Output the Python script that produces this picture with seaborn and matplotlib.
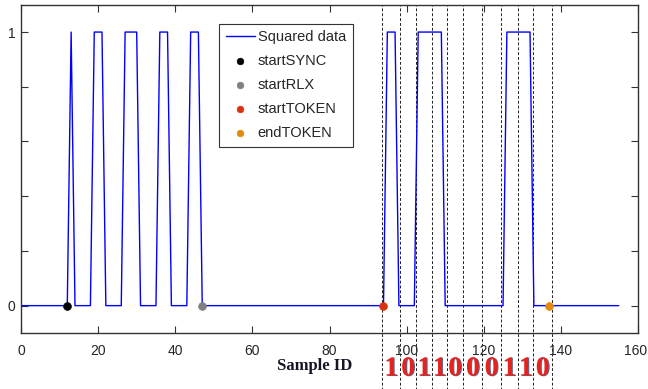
import matplotlib
matplotlib.use('Agg')
import matplotlib.pyplot as plt
import matplotlib.patheffects as pe
import matplotlib.transforms as mtransforms
import seaborn as sns
import pandas as pd

# ---- data ----
signal_x = [0, 12, 13, 14, 18, 19, 21, 22, 26, 27, 30, 31, 35, 36, 38, 39,
            43, 44, 46, 47, 94, 95, 97, 98, 102, 103, 109, 110, 125, 126, 132, 133, 155]
signal_y = [0, 0, 1, 0, 0, 1, 1, 0, 0, 1, 1, 0, 0, 1, 1, 0,
            0, 1, 1, 0, 0, 1, 1, 0, 0, 1, 1, 0, 0, 1, 1, 0, 0]
event_names = ['startSYNC', 'startRLX', 'startTOKEN', 'endTOKEN']
event_x = [12, 47, 94, 137]
event_y = [0, 0, 0, 0]
event_colors = ['#000000', '#808080', '#d8320e', '#e08a0e']
bit_bounds = [93.7, 98.3, 102.4, 106.7, 110.4, 114.7, 119.6, 124.4, 128.9, 132.9, 137.6]
bits = ['1', '0', '1', '1', '0', '0', '0', '1', '1', '0']
xticks = [0, 20, 40, 60, 80, 100, 120, 140, 160]
yticks = [0, 0.2, 0.4, 0.6, 0.8, 1]
ytick_labels = ['0', '', '', '', '', '1']

sns.set_style('ticks')
plt.rcParams['font.family'] = ['Liberation Sans', 'DejaVu Sans']

fig = plt.figure(figsize=(6.48, 3.89), dpi=100)
ax = fig.add_axes([21 / 648, 1 - 333 / 389, (638 - 21) / 648, (333 - 4.7) / 389])

df = pd.DataFrame({'x': signal_x, 'y': signal_y})
sns.lineplot(data=df, x='x', y='y', color='#0000ff', lw=1.0, label='Squared data',
             sort=False, estimator=None, ax=ax, zorder=2)

for name, ex, ey, c in zip(event_names, event_x, event_y, event_colors):
    sns.scatterplot(x=[ex], y=[ey], color=c, edgecolor=c, s=32, label=name, ax=ax, zorder=3)

for b in bit_bounds:
    ax.axvline(b, ymin=-0.2, ymax=1, color='#222222', lw=0.7, ls=(0, (3, 2)),
               clip_on=False, zorder=1)

trans = mtransforms.blended_transform_factory(ax.transData, ax.transAxes)
for i, bit in enumerate(bits):
    xm = (bit_bounds[i] + bit_bounds[i + 1]) / 2
    ax.text(xm, -0.11, bit, transform=trans, ha='center', va='center',
            fontsize=20, fontweight='bold', family='Liberation Serif', color='#e8211d',
            path_effects=[pe.withSimplePatchShadow(offset=(0.8, -0.3),
                                                   shadow_rgbFace='#1a2a55', alpha=0.7)],
            clip_on=False)

ax.set_xlim(0, 160)
ax.set_ylim(-0.1, 1.1)
ax.set_xticks(xticks)
ax.set_xticklabels([str(t) for t in xticks])
ax.set_yticks(yticks)
ax.set_yticklabels(ytick_labels)
ax.tick_params(direction='in', top=True, right=True, length=5, width=0.8,
               labelsize=10, color='#333333')
ax.tick_params(axis='x', pad=8)
ax.tick_params(axis='y', pad=4)
for s in ax.spines.values():
    s.set_color('#333333')
    s.set_linewidth(1.0)

# nudge the last x tick label so it stays inside the figure
last = ax.get_xticklabels()[-1]
last.set_transform(last.get_transform() +
                   mtransforms.ScaledTranslation(-2 / 100, 0, fig.dpi_scale_trans))

ax.set_ylabel('')
ax.set_xlabel('Sample ID', fontsize=12, fontweight='bold', family='Liberation Serif',
              color='#151525')
ax.xaxis.set_label_coords((315 - 21) / 617, -0.076)

leg = ax.legend(loc='upper left', bbox_to_anchor=(0.321, 0.942), borderaxespad=0,
                fontsize=10.5, frameon=True, fancybox=False, framealpha=1,
                edgecolor='#333333', handlelength=2.0, handletextpad=0.2,
                labelspacing=0.68, borderpad=0.45, markerscale=0.85)
leg.get_frame().set_linewidth(0.8)

fig.savefig('out.png', dpi=100)
